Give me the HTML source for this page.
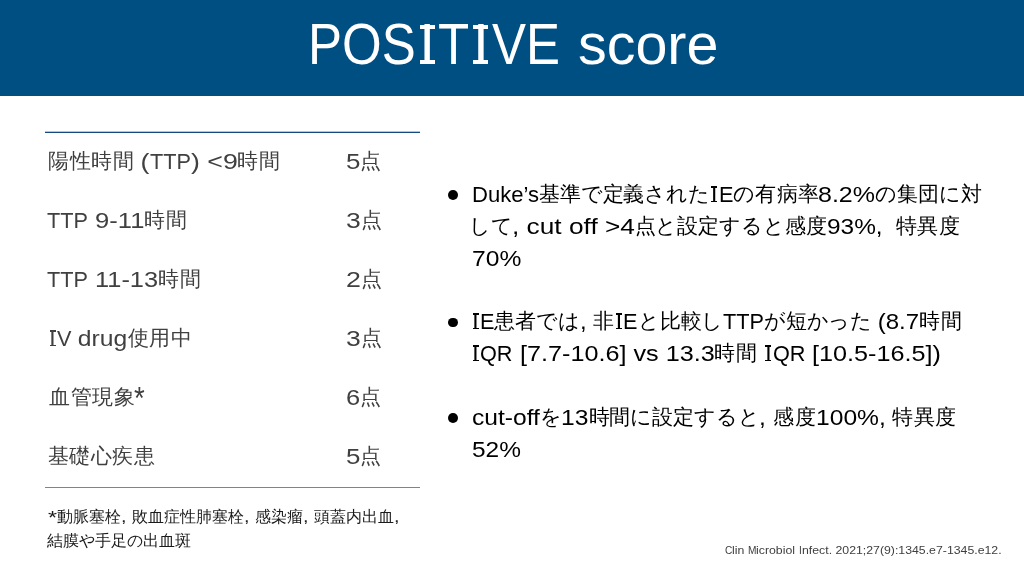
<!DOCTYPE html>
<html lang="ja">
<head>
<meta charset="utf-8">
<title>POSITIVE score</title>
<style>
html,body{margin:0;padding:0;}
body{width:1024px;height:576px;position:relative;overflow:hidden;background:#fff;
  font-family:"Liberation Sans",sans-serif;color:#000;}
.hdr{position:absolute;left:0;top:0;width:1024px;height:95.8px;background:#004f83;}
.ln{position:absolute;white-space:nowrap;will-change:transform;}
.j{display:inline-block;text-align:justify;text-align-last:justify;letter-spacing:-0.25px;}
.l{display:inline-block;white-space:pre;transform-origin:0 0;}
.title{font-size:54px;line-height:64px;color:#fff;}
.t{font-size:22.8px;line-height:24px;color:#404040;}
.r{font-size:22.8px;line-height:24px;color:#000;}
.f{font-size:16px;line-height:24px;color:#1a1a1a;}
.c{font-size:10.67px;line-height:12px;color:#404040;}
.title{--bl:52px;--ia:22.7px;--iw:15px;--st:4.4px;}
.t,.r{--bl:20px;--ia:9px;--iw:6px;--st:1.5px;}
.si{display:inline-block;position:relative;width:var(--ia);text-align:center;}
.si::before,.si::after{content:"";position:absolute;left:calc((var(--ia) - var(--iw))/2);width:var(--iw);height:var(--st);background:currentColor;}
.si::before{top:calc(var(--bl) - 0.688em);}
.si::after{top:calc(var(--bl) - var(--st));}
.t .j,.r .j{font-size:21.33px;position:relative;top:-1px;}
.ast{font-size:135%;line-height:0;position:relative;top:0.13em;}
.f .ast{font-size:118%;top:0.08em;}
.rule{position:absolute;left:45px;width:374.5px;}
.dot{position:absolute;width:9.8px;height:9.8px;border-radius:50%;background:#000;left:448.2px;}
</style>
</head>
<body>
<div class="hdr"></div>
<div class="rule" style="top:131px;height:1px;border-top:1px solid #b3c5d8;background:#144b82;"></div>
<div class="rule" style="top:487px;height:1px;background:#6489b4;"></div>
<div class="dot" style="top:190.3px;"></div>
<div class="dot" style="top:317.6px;"></div>
<div class="dot" style="top:413.4px;"></div>
<div class="ln title" id="title1" style="left:308.00px;top:12.00px;font-size:57px;line-height:64px;"><span class="l" style="transform:scaleX(0.8950);margin-right:-12.65px">POS</span><span class="si">I</span><span class="l" style="transform:scaleX(0.8950);margin-right:-3.66px">T</span><span class="si">I</span><span class="l" style="transform:scaleX(0.8950);margin-right:-7.99px">VE</span></div>
<div class="ln title" id="title2" style="left:578.00px;top:12.00px;font-size:57.5px;line-height:64px;"><span class="l" style="transform:scaleX(0.9988);margin-right:-0.17px">score</span></div>
<div class="ln t" id="t1" style="left:48.00px;top:149.00px;font-size:22.8px;line-height:24px;"><span class="j" style="width:85.32px">陽性時間</span><span class="l" style="transform:scaleX(1.1716);margin-right:2.39px"> (</span><span class="l" style="transform:scaleX(0.9500);margin-right:-2.15px">TTP</span><span class="l" style="transform:scaleX(1.1716);margin-right:6.85px">) &lt;9</span><span class="j" style="width:42.66px">時間</span></div>
<div class="ln t" id="t2" style="left:47.00px;top:208.00px;font-size:22.8px;line-height:24px;"><span class="l" style="transform:scaleX(0.9500);margin-right:-2.15px">TTP</span><span class="l" style="transform:scaleX(1.1217);margin-right:6.12px"> 9-11</span><span class="j" style="width:42.66px">時間</span></div>
<div class="ln t" id="t3" style="left:47.00px;top:267.00px;font-size:22.8px;line-height:24px;"><span class="l" style="transform:scaleX(0.9500);margin-right:-2.15px">TTP</span><span class="l" style="transform:scaleX(1.1131);margin-right:7.12px"> 11-13</span><span class="j" style="width:42.66px">時間</span></div>
<div class="ln t" id="t4" style="left:48.00px;top:326.00px;font-size:22.8px;line-height:24px;"><span class="si">I</span><span class="l" style="transform:scaleX(0.9500);margin-right:-0.76px">V</span><span class="l" style="transform:scaleX(1.0824);margin-right:4.28px"> drug</span><span class="j" style="width:63.99px">使用中</span></div>
<div class="ln t" id="t5" style="left:49.00px;top:385.00px;font-size:22.8px;line-height:24px;"><span class="j" style="width:85.32px">血管現象</span><span class="l" style="transform:scaleX(0.8957);margin-right:-1.25px"><span class="ast">*</span></span></div>
<div class="ln t" id="t6" style="left:48.00px;top:444.00px;font-size:22.8px;line-height:24px;"><span class="j" style="width:106.65px">基礎心疾患</span></div>
<div class="ln t" id="s1" style="left:346.00px;top:149.00px;font-size:22.8px;line-height:24px;"><span class="l" style="transform:scaleX(1.1364);margin-right:1.73px">5</span><span class="j" style="width:21.33px">点</span></div>
<div class="ln t" id="s2" style="left:346.00px;top:208.00px;font-size:22.8px;line-height:24px;"><span class="l" style="transform:scaleX(1.1632);margin-right:2.07px">3</span><span class="j" style="width:21.33px">点</span></div>
<div class="ln t" id="s3" style="left:346.00px;top:267.00px;font-size:22.8px;line-height:24px;"><span class="l" style="transform:scaleX(1.1734);margin-right:2.20px">2</span><span class="j" style="width:21.33px">点</span></div>
<div class="ln t" id="s4" style="left:346.00px;top:326.00px;font-size:22.8px;line-height:24px;"><span class="l" style="transform:scaleX(1.1632);margin-right:2.07px">3</span><span class="j" style="width:21.33px">点</span></div>
<div class="ln t" id="s5" style="left:346.00px;top:385.00px;font-size:22.8px;line-height:24px;"><span class="l" style="transform:scaleX(1.1182);margin-right:1.50px">6</span><span class="j" style="width:21.33px">点</span></div>
<div class="ln t" id="s6" style="left:346.00px;top:444.00px;font-size:22.8px;line-height:24px;"><span class="l" style="transform:scaleX(1.1364);margin-right:1.73px">5</span><span class="j" style="width:21.33px">点</span></div>
<div class="ln f" id="f1" style="left:48.00px;top:505.00px;font-size:16px;line-height:24px;"><span class="l" style="transform:scaleX(1.2360);margin-right:1.73px"><span class="ast">*</span></span><span class="j" style="width:64.00px">動脈塞栓</span><span class="l" style="transform:scaleX(1.2360);margin-right:2.10px">, </span><span class="j" style="width:112.00px">敗血症性肺塞栓</span><span class="l" style="transform:scaleX(1.2360);margin-right:2.10px">, </span><span class="j" style="width:48.00px">感染瘤</span><span class="l" style="transform:scaleX(1.2360);margin-right:2.10px">, </span><span class="j" style="width:80.00px">頭蓋内出血</span><span class="l" style="transform:scaleX(1.2360);margin-right:1.05px">,</span></div>
<div class="ln f" id="f2" style="left:47.00px;top:529.00px;font-size:16px;line-height:24px;"><span class="j" style="width:144.00px">結膜や手足の出血斑</span></div>
<div class="ln r" id="r1" style="left:472.00px;top:182.00px;font-size:22.8px;line-height:24px;"><span class="l" style="transform:scaleX(0.9680);margin-right:-2.22px">Duke’s</span><span class="j" style="width:170.64px">基準で定義された</span><span class="si">I</span><span class="l" style="transform:scaleX(0.9500);margin-right:-0.76px">E</span><span class="j" style="width:85.32px">の有病率</span><span class="l" style="transform:scaleX(1.0954);margin-right:4.96px">8.2%</span><span class="j" style="width:106.65px">の集団に対</span></div>
<div class="ln r" id="r2" style="left:469.00px;top:214.00px;font-size:22.8px;line-height:24px;"><span class="j" style="width:42.66px">して</span><span class="l" style="transform:scaleX(1.1526);margin-right:16.28px">, cut off &gt;4</span><span class="j" style="width:191.97px">点と設定すると感度</span><span class="l" style="transform:scaleX(1.0700);margin-right:4.52px">93%,  </span><span class="j" style="width:63.99px">特異度</span></div>
<div class="ln r" id="r3" style="left:472.00px;top:246.00px;font-size:22.8px;line-height:24px;"><span class="l" style="transform:scaleX(1.0806);margin-right:3.68px">70%</span></div>
<div class="ln r" id="r4" style="left:471.00px;top:309.00px;font-size:22.8px;line-height:24px;"><span class="si">I</span><span class="l" style="transform:scaleX(0.9500);margin-right:-0.76px">E</span><span class="j" style="width:85.32px">患者では</span><span class="l" style="transform:scaleX(1.0528);margin-right:0.67px">, </span><span class="j" style="width:21.33px">非</span><span class="si">I</span><span class="l" style="transform:scaleX(0.9500);margin-right:-0.76px">E</span><span class="j" style="width:85.32px">と比較し</span><span class="l" style="transform:scaleX(0.9500);margin-right:-2.15px">TTP</span><span class="j" style="width:106.65px">が短かった</span><span class="l" style="transform:scaleX(1.0528);margin-right:2.41px"> (8.7</span><span class="j" style="width:42.66px">時間</span></div>
<div class="ln r" id="r5" style="left:471.00px;top:341.00px;font-size:22.8px;line-height:24px;"><span class="si">I</span><span class="l" style="transform:scaleX(0.9500);margin-right:-1.71px">QR</span><span class="l" style="transform:scaleX(1.1053);margin-right:19.21px"> [7.7-10.6] vs 13.3</span><span class="j" style="width:42.66px">時間</span><span class="l" style="transform:scaleX(1.1053);margin-right:0.67px"> </span><span class="si">I</span><span class="l" style="transform:scaleX(0.9500);margin-right:-1.71px">QR</span><span class="l" style="transform:scaleX(1.1053);margin-right:12.94px"> [10.5-16.5])</span></div>
<div class="ln r" id="r6" style="left:472.00px;top:405.00px;font-size:22.8px;line-height:24px;"><span class="l" style="transform:scaleX(1.0797);margin-right:5.02px">cut-off</span><span class="j" style="width:21.33px">を</span><span class="l" style="transform:scaleX(1.0797);margin-right:2.02px">13</span><span class="j" style="width:170.64px">時間に設定すると</span><span class="l" style="transform:scaleX(1.0797);margin-right:1.01px">, </span><span class="j" style="width:42.66px">感度</span><span class="l" style="transform:scaleX(1.0797);margin-right:5.66px">100%, </span><span class="j" style="width:63.99px">特異度</span></div>
<div class="ln r" id="r7" style="left:472.00px;top:437.00px;font-size:22.8px;line-height:24px;"><span class="l" style="transform:scaleX(1.0727);margin-right:3.32px">52%</span></div>
<div class="ln c" id="c1" style="left:725.00px;top:544.00px;font-size:10.67px;line-height:12px;"><span class="l" style="transform:scaleX(0.9500);margin-right:-0.39px">C</span><span class="l" style="transform:scaleX(1.1536);margin-right:2.09px">lin </span><span class="l" style="transform:scaleX(0.9500);margin-right:-0.44px">M</span><span class="l" style="transform:scaleX(1.1536);margin-right:5.64px">icrobiol </span><span class="l" style="transform:scaleX(0.9500);margin-right:-0.15px">I</span><span class="l" style="transform:scaleX(1.1536);margin-right:26.57px">nfect. 2021;27(9):1345.e7-1345.e12.</span></div>
</body>
</html>
